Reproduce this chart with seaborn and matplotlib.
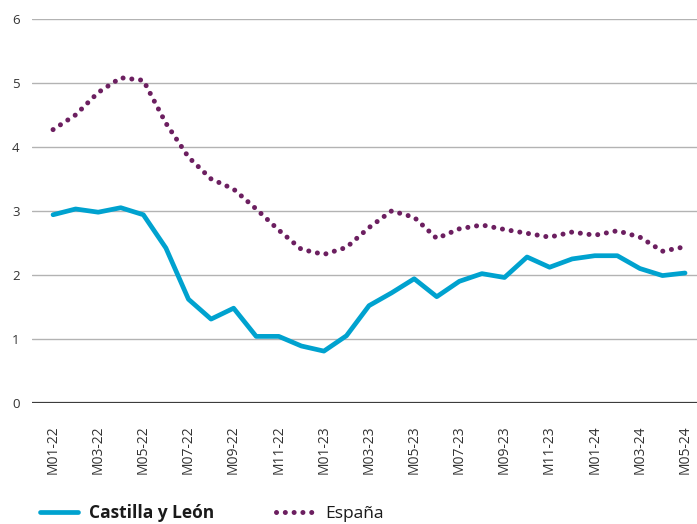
import numpy as np
import pandas as pd
import matplotlib
matplotlib.use("Agg")
import matplotlib.pyplot as plt
import seaborn as sns

# Meses M01-22 .. M05-24
months = [f"M{m:02d}-{y}" for y in (22, 23, 24) for m in range(1, 13)][:29]

castilla = [2.94, 3.03, 2.98, 3.05, 2.94, 2.42, 1.62, 1.31, 1.48, 1.04, 1.04, 0.89,
            0.81, 1.05, 1.52, 1.72, 1.94, 1.66, 1.90, 2.02, 1.96, 2.28, 2.12, 2.25,
            2.30, 2.30, 2.10, 1.99, 2.03]
espana = [4.27, 4.50, 4.85, 5.08, 5.04, 4.37, 3.84, 3.50, 3.34, 3.03, 2.70, 2.40,
          2.32, 2.43, 2.74, 3.00, 2.90, 2.57, 2.72, 2.78, 2.71, 2.65, 2.59, 2.67,
          2.62, 2.69, 2.59, 2.37, 2.44]

y_ticks = [0, 1, 2, 3, 4, 5, 6]

df = pd.DataFrame({"mes": months, "idx": np.arange(len(months)),
                   "Castilla y León": castilla, "España": espana})

sns.set_style("white")
plt.rcParams["font.family"] = ["Open Sans", "DejaVu Sans"]

fig = plt.figure(figsize=(6.97, 5.24), dpi=100)
ax = fig.add_axes([0.046, 0.231, 0.954, 0.733])

for y in y_ticks[1:]:
    ax.axhline(y, color="#b3b3b3", lw=1.0, zorder=0)
ax.axhline(0, color="#3c3c3c", lw=1.6, zorder=1)

sns.lineplot(data=df, x="idx", y="España", ax=ax, color="#6c1f60", lw=3.6,
             label="España", zorder=3)
ax.lines[-1].set_linestyle((0, (0.01, 1.75)))
ax.lines[-1].set_dash_capstyle("round")
sns.lineplot(data=df, x="idx", y="Castilla y León", ax=ax, color="#00a2cf", lw=3.4,
             label="Castilla y León", zorder=4)

ax.set_xlim(-0.93, 28.53)
ax.set_ylim(0, 6)
ax.set_yticks(y_ticks)
ax.set_yticklabels([str(v) for v in y_ticks], fontsize=9.5, color="#333333")
ax.set_xticks(df["idx"][::2])
ax.set_xticklabels(df["mes"][::2], rotation=90, fontsize=10, color="#333333")
ax.tick_params(axis="both", length=0)
ax.tick_params(axis="y", pad=9)
ax.tick_params(axis="x", pad=16)
ax.set_xlabel("")
ax.set_ylabel("")
sns.despine(ax=ax, left=True, bottom=True, top=True, right=True)

handles, labels = ax.get_legend_handles_labels()
ax.get_legend().remove()
order = [labels.index("Castilla y León"), labels.index("España")]
leg = fig.legend([handles[i] for i in order], [labels[i] for i in order],
                 loc="lower left", bbox_to_anchor=(0.035, -0.026), ncol=2,
                 frameon=False, fontsize=12.5, handlelength=2.2, columnspacing=3.6,
                 handletextpad=0.6)
for t in leg.get_texts():
    t.set_color("#1a1a1a")
leg.get_texts()[0].set_fontweight("bold")

fig.savefig("out.png", dpi=100)
